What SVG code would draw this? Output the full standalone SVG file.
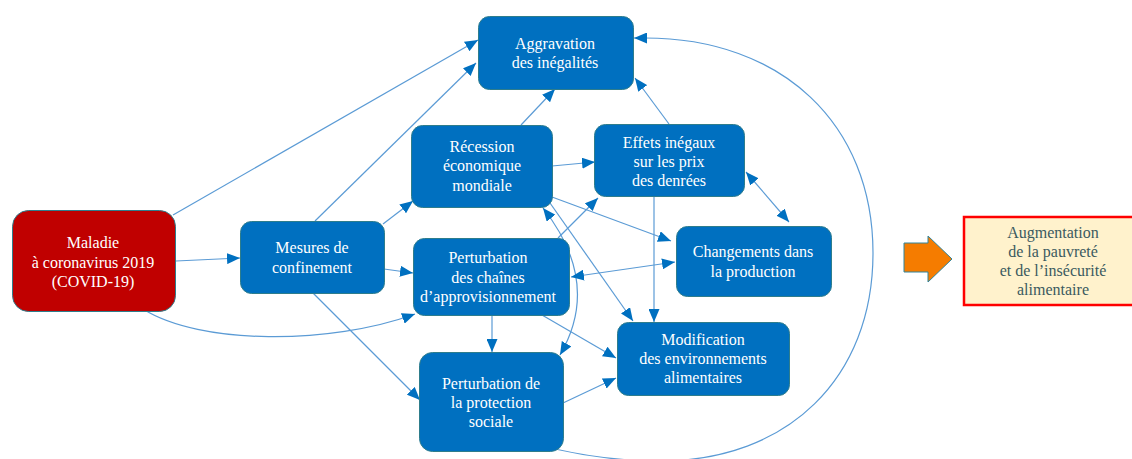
<svg xmlns="http://www.w3.org/2000/svg" width="1132" height="459" viewBox="0 0 1132 459">
<style>
.node rect{fill:#0070C0;stroke:#2E7D8C;stroke-width:1}
.node text{fill:#FFFFFF;font-family:"Liberation Serif","Times New Roman",serif;font-size:16px;text-anchor:middle}
.edge{fill:none;stroke:#5B9BD5;stroke-width:1.2}
</style>
<defs>
<marker id="ah" markerUnits="userSpaceOnUse" markerWidth="13" markerHeight="11" refX="13" refY="5.5" orient="auto-start-reverse">
<path d="M0,0 L13,5.5 L0,11 z" fill="#0070C0"/>
</marker>
</defs>
<rect width="1132" height="459" fill="#FFFFFF"/>
<g id="connectors">
<path class="edge" d="M173,215 L478,40" marker-end="url(#ah)"/>
<path class="edge" d="M315,221 L476,63" marker-end="url(#ah)"/>
<path class="edge" d="M383,224 L413,201" marker-end="url(#ah)"/>
<path class="edge" d="M176,261 L240,258" marker-end="url(#ah)"/>
<path class="edge" d="M384,269 L413,273" marker-end="url(#ah)"/>
<path class="edge" d="M143,309 C200,345 330,345 415,314" marker-end="url(#ah)"/>
<path class="edge" d="M313,293 L420,400" marker-end="url(#ah)"/>
<path class="edge" d="M521,125 L555,89" marker-end="url(#ah)"/>
<path class="edge" d="M669,124 L635,78" marker-end="url(#ah)"/>
<path class="edge" d="M552,166 L595,162" marker-end="url(#ah)"/>
<path class="edge" d="M746,172 L789,222" marker-start="url(#ah)" marker-end="url(#ah)"/>
<path class="edge" d="M555,449 C590,457 620,461 660,461 C788,461 873,378 873,253 C873,124 782,38 645,38 L634,38" marker-end="url(#ah)"/>
<path class="edge" d="M543,208 Q602,283 560,355" marker-start="url(#ah)" marker-end="url(#ah)"/>
<path class="edge" d="M552,197 L671,241" marker-end="url(#ah)"/>
<path class="edge" d="M550,203 L633,321" marker-end="url(#ah)"/>
<path class="edge" d="M558,238 L598,198" marker-end="url(#ah)"/>
<path class="edge" d="M675,262 L571,277" marker-start="url(#ah)" marker-end="url(#ah)"/>
<path class="edge" d="M492,315 L492,352" marker-end="url(#ah)"/>
<path class="edge" d="M542,315 L616,358" marker-end="url(#ah)"/>
<path class="edge" d="M563,403 L616,378" marker-end="url(#ah)"/>
<path class="edge" d="M654,197 L654,322" marker-end="url(#ah)"/>
</g>
<g id="maladie" class="node">
<rect x="12.5" y="210.5" width="163" height="101" rx="16" style="fill:#C00000;stroke:#2E7D8C"/>
<text x="93" y="248">Maladie</text>
<text x="93" y="268">à coronavirus 2019</text>
<text x="93" y="287">(COVID-19)</text>
</g>
<g id="mesures" class="node">
<rect x="240.5" y="221.5" width="144" height="72" rx="11"/>
<text x="312" y="253">Mesures de</text>
<text x="312" y="273">confinement</text>
</g>
<g id="aggravation" class="node">
<rect x="478.5" y="16.5" width="155" height="73" rx="11"/>
<text x="555" y="49">Aggravation</text>
<text x="555" y="68">des inégalités</text>
</g>
<g id="recession" class="node">
<rect x="411.5" y="125.5" width="141" height="82" rx="11"/>
<text x="482" y="152">Récession</text>
<text x="482" y="171">économique</text>
<text x="482" y="191">mondiale</text>
</g>
<g id="effets" class="node">
<rect x="594.5" y="124.5" width="150" height="72" rx="11"/>
<text x="669" y="148">Effets inégaux</text>
<text x="669" y="167">sur les prix</text>
<text x="669" y="186">des denrées</text>
</g>
<g id="changements" class="node">
<rect x="676.5" y="226.5" width="155" height="70" rx="11"/>
<text x="753" y="257">Changements dans</text>
<text x="753" y="277">la production</text>
</g>
<g id="chaines" class="node">
<rect x="413.5" y="238.5" width="156" height="77" rx="11"/>
<text x="488" y="263">Perturbation</text>
<text x="488" y="283">des chaînes</text>
<text x="488" y="302">d’approvisionnement</text>
</g>
<g id="modification" class="node">
<rect x="617.5" y="322.5" width="172" height="73" rx="11"/>
<text x="703" y="345">Modification</text>
<text x="703" y="364">des environnements</text>
<text x="703" y="383">alimentaires</text>
</g>
<g id="protection" class="node">
<rect x="419.5" y="352.5" width="144" height="99" rx="13"/>
<text x="491" y="389">Perturbation de</text>
<text x="491" y="408">la protection</text>
<text x="491" y="427">sociale</text>
</g>
<g id="fleche">
<path d="M904,243 L928,243 L928,236 L952,259 L928,282 L928,272 L904,272 z" fill="#F57C00" stroke="#31849B" stroke-width="1"/>
</g>
<g id="augmentation">
<rect x="964" y="217" width="170" height="88" fill="#FFF2CC" stroke="#FF0000" stroke-width="2.5"/>
<text x="1053" y="238" font-family="'Liberation Serif','Times New Roman',serif" font-size="16" fill="#3B5A60" text-anchor="middle">Augmentation</text>
<text x="1053" y="257" font-family="'Liberation Serif','Times New Roman',serif" font-size="16" fill="#3B5A60" text-anchor="middle">de la pauvreté</text>
<text x="1053" y="276" font-family="'Liberation Serif','Times New Roman',serif" font-size="16" fill="#3B5A60" text-anchor="middle">et de l’insécurité</text>
<text x="1053" y="295" font-family="'Liberation Serif','Times New Roman',serif" font-size="16" fill="#3B5A60" text-anchor="middle">alimentaire</text>
</g>
</svg>
